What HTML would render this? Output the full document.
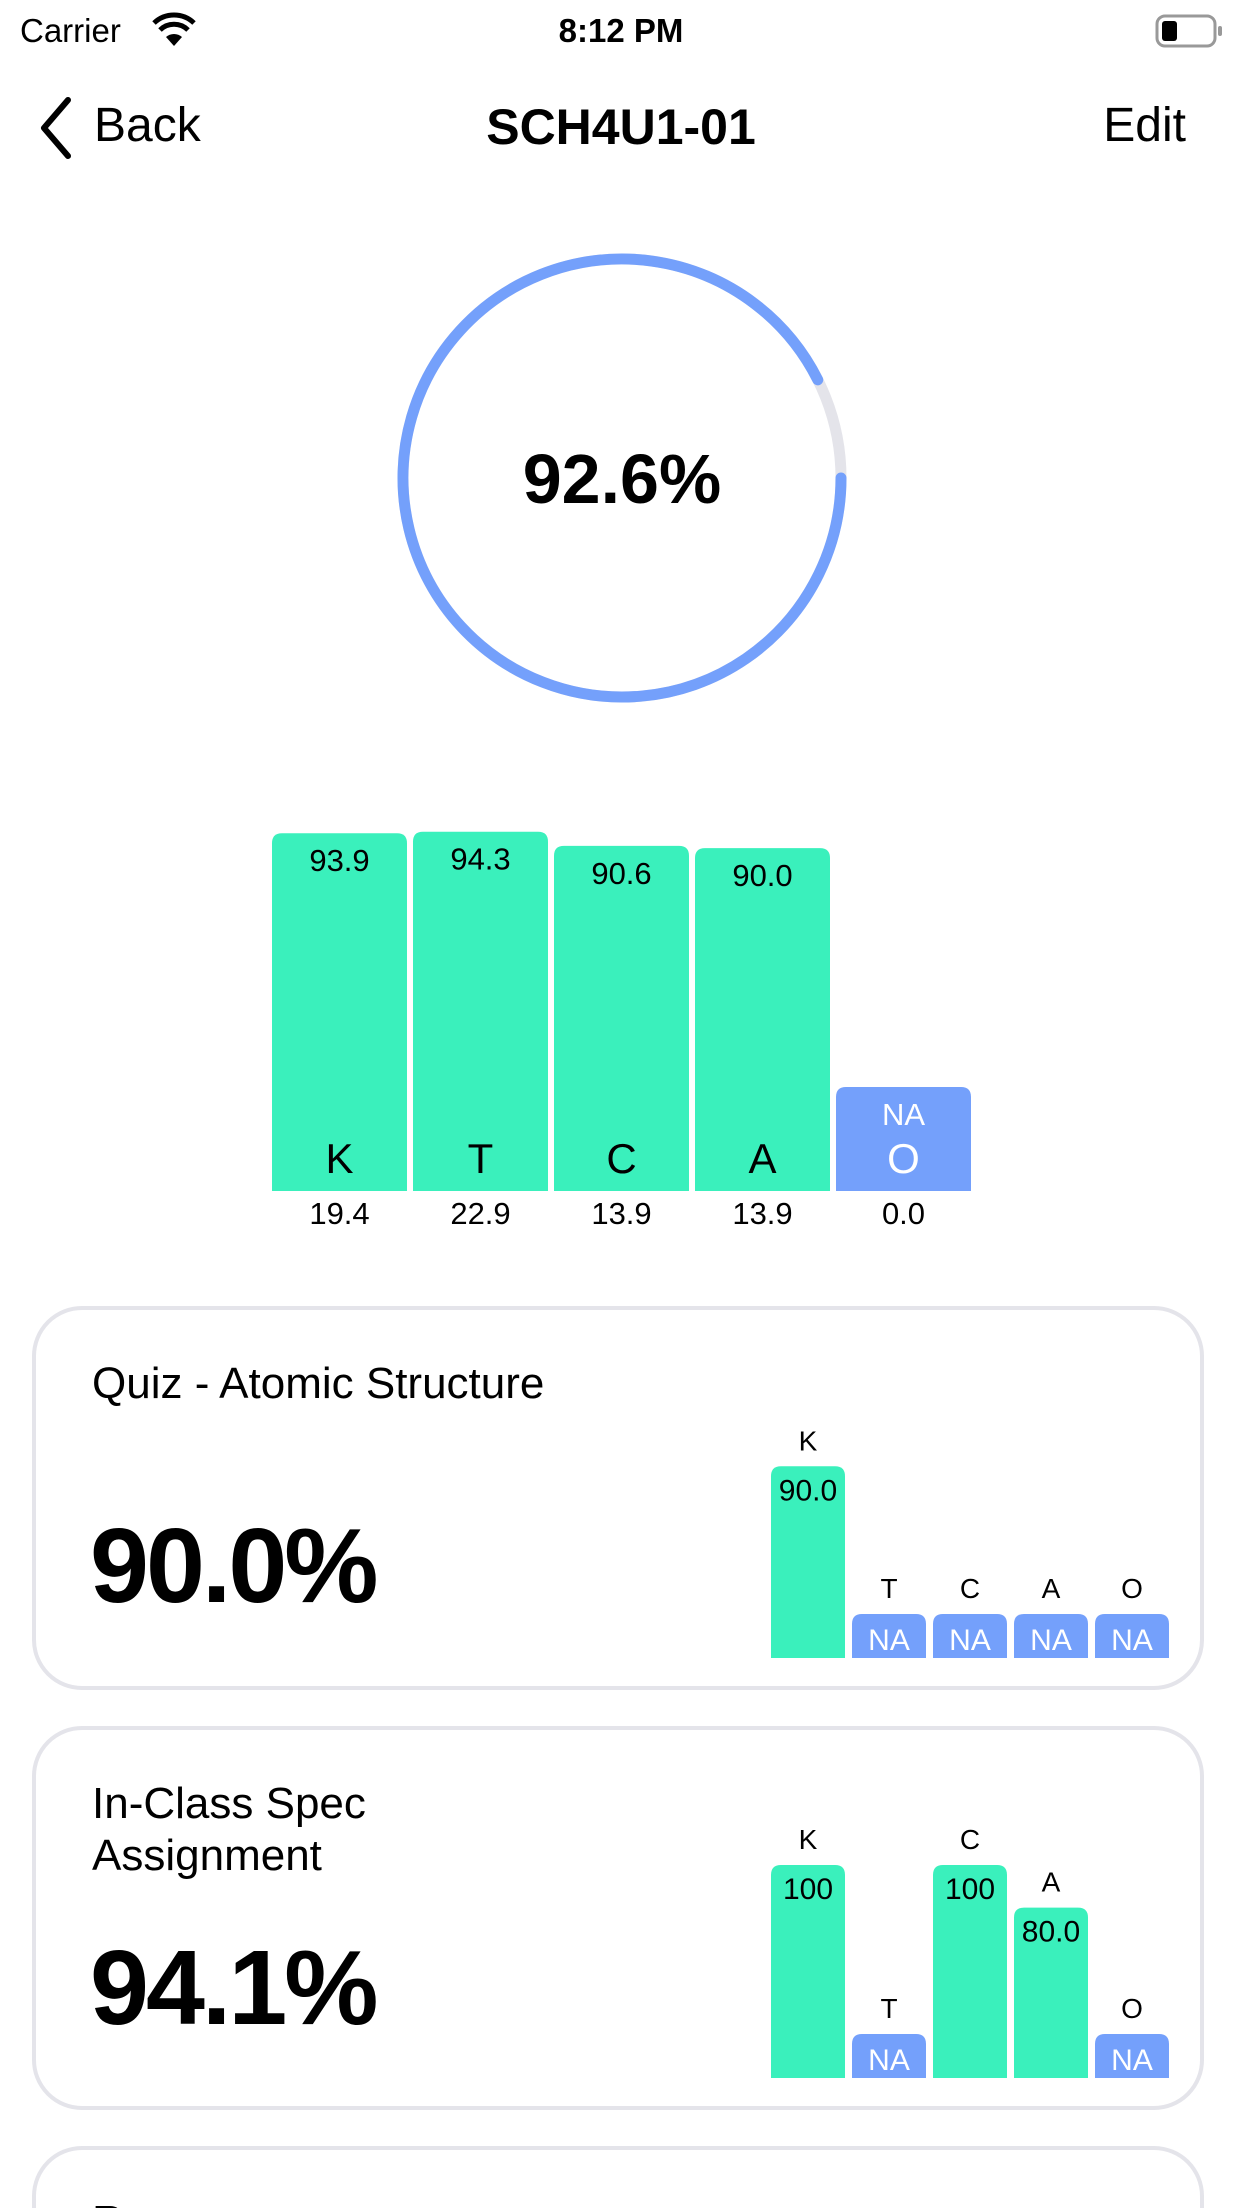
<!DOCTYPE html>
<html><head><meta charset="utf-8">
<style>
html,body{margin:0;padding:0;background:#fff;width:1242px;height:2208px;overflow:hidden;}
body{position:relative;font-family:"Liberation Sans",sans-serif;color:#000;}
.abs{position:absolute;}
.card{position:absolute;left:32px;width:1172px;border:4px solid #e4e4ea;border-radius:50px;box-sizing:border-box;}
#clip{position:absolute;left:0;top:0;width:1242px;height:2208px;overflow:hidden;}
</style></head>
<body>
<div id="clip">
<div class="abs" style="left:20px;top:12px;font-size:33px;">Carrier</div>
<svg class="abs" style="left:152px;top:12px" width="44" height="36" viewBox="0 0 44 36">
<path d="M22 34 L14 25 A12 12 0 0 1 30 25 Z" fill="#000"/>
<path d="M8 18 A20 20 0 0 1 36 18" stroke="#000" stroke-width="5" fill="none"/>
<path d="M2 11 A29 29 0 0 1 42 11" stroke="#000" stroke-width="5" fill="none"/>
</svg>
<div class="abs" style="left:0;width:1242px;text-align:center;top:12px;font-size:33px;font-weight:bold;">8:12 PM</div>
<svg class="abs" style="left:1155px;top:14px" width="70" height="36" viewBox="0 0 70 36">
<rect x="2" y="2" width="58" height="30" rx="8" fill="none" stroke="#999" stroke-width="3"/>
<rect x="7" y="7" width="15" height="20" rx="3" fill="#000"/>
<rect x="63" y="12" width="4" height="10" rx="2" fill="#999"/>
</svg>
<svg class="abs" style="left:36px;top:96px" width="40" height="64" viewBox="0 0 40 64">
<path d="M32 4 L8 32 L32 60" stroke="#000" stroke-width="6" fill="none" stroke-linecap="round" stroke-linejoin="round"/>
</svg>
<div class="abs" style="left:94px;top:98px;font-size:48px;">Back</div>
<div class="abs" style="left:0;width:1242px;text-align:center;top:98px;font-size:50px;font-weight:bold;">SCH4U1-01</div>
<div class="abs" style="right:56px;top:98px;font-size:48px;">Edit</div>

<svg class="abs" id="ring" style="left:0;top:0" width="1242" height="760"></svg>
<svg class="abs" id="main" style="left:0;top:780px" width="1242" height="470"></svg>

<div class="card" style="top:1306px;height:384px;">
<div class="abs" style="left:56px;top:48px;font-size:44px;line-height:52px;">Quiz - Atomic Structure</div>
<div class="abs" style="left:54px;top:196px;font-size:106px;font-weight:bold;letter-spacing:-3px;">90.0%</div>
<svg class="abs" id="c1" style="left:0;top:0" width="1164" height="376"></svg>
</div>
<div class="card" style="top:1726px;height:384px;">
<div class="abs" style="left:56px;top:48px;font-size:44px;line-height:52px;">In-Class Spec<br>Assignment</div>
<div class="abs" style="left:54px;top:198px;font-size:106px;font-weight:bold;letter-spacing:-3px;">94.1%</div>
<svg class="abs" id="c2" style="left:0;top:0" width="1164" height="376"></svg>
</div>
<div class="card" style="top:2146px;height:62px;border-bottom:none;border-radius:50px 50px 0 0;overflow:hidden;">
<div class="abs" style="left:56px;top:46px;font-size:44px;line-height:52px;">Reassessment</div>
</div>
</div>

<script>
const overall = 92.6;
const categories = ["K","T","C","A","O"];
const mainValues = [93.9, 94.3, 90.6, 90.0, null];
const mainWeights = ["19.4","22.9","13.9","13.9","0.0"];
const quizValues = [90.0, null, null, null, null];
const specValues = [100, null, 100, 80.0, null];

const NS = "http://www.w3.org/2000/svg";
const GREEN = "#3af0bc", BLUE = "#74a0fb";
function mk(tag, attrs, parent){const e=document.createElementNS(NS,tag);for(const k in attrs)e.setAttribute(k,attrs[k]);parent.appendChild(e);return e;}
function topRound(x,y,w,h,r){return `M${x} ${y+h} L${x} ${y+r} Q${x} ${y} ${x+r} ${y} L${x+w-r} ${y} Q${x+w} ${y} ${x+w} ${y+r} L${x+w} ${y+h} Z`;}
function fmt(v){return v>=100?String(Math.round(v)):v.toFixed(1);}

(function(){
  const svg=document.getElementById('ring');
  const cx=622,cy=478,r=219;
  const t=mk('circle',{cx,cy,r,fill:'none',stroke:'#e4e4ea','stroke-width':11},svg);
  
  
  const a0=0, a1=overall/100*2*Math.PI;
  const p0=[cx+r*Math.cos(a0),cy+r*Math.sin(a0)], p1=[cx+r*Math.cos(a1),cy+r*Math.sin(a1)];
  const large=a1-a0>Math.PI?1:0;
  const arc=mk('path',{d:`M${p0[0]} ${p0[1]} A${r} ${r} 0 ${large} 1 ${p1[0]} ${p1[1]}`,fill:'none',stroke:BLUE,'stroke-width':11,'stroke-linecap':'round'},svg);
  
  
  const tx=mk('text',{x:cx,y:cy+25,'text-anchor':'middle','font-size':70,'font-weight':'bold','font-family':'Liberation Sans, sans-serif'},svg);
  tx.textContent=overall.toFixed(1)+'%';
  
  
})();

(function(){
  const svg=document.getElementById('main');
  const x0=272,pitch=141,w=135,base=411,scale=3.81,naH=104;
  const F='Liberation Sans, sans-serif';
  categories.forEach((c,i)=>{
    const v=mainValues[i];const x=x0+i*pitch;
    const h=v==null?naH:v*scale;
    const b=mk('path',{d:topRound(x,base-h,w,h,10),fill:v==null?BLUE:GREEN},svg);
    
    
    const col=v==null?'#fff':'#000';
    const vt=mk('text',{x:x+w/2,y:base-h+(v==null?38:38),'text-anchor':'middle','font-size':31,fill:col,'font-family':F},svg);
    vt.textContent=v==null?'NA':fmt(v);
    
    
    const lt=mk('text',{x:x+w/2,y:base-18,'text-anchor':'middle','font-size':42,fill:col,'font-family':F},svg);
    lt.textContent=c;
    
    
    const wt=mk('text',{x:x+w/2,y:base+33,'text-anchor':'middle','font-size':31,fill:'#000','font-family':F},svg);
    wt.textContent=mainWeights[i];
    
    
  });
})();

function mini(id,vals){
  const svg=document.getElementById(id);
  const x0=735,pitch=81,w=74,base=348,scale=2.13,naH=44;
  const F='Liberation Sans, sans-serif';
  categories.forEach((c,i)=>{
    const v=vals[i];const x=x0+i*pitch;
    const h=v==null?naH:v*scale;
    const b=mk('path',{d:topRound(x,base-h,w,h,10),fill:v==null?BLUE:GREEN},svg);
    
    
    const vt=mk('text',{x:x+w/2,y:base-h+(v==null?36:34),'text-anchor':'middle','font-size':30,fill:v==null?'#fff':'#000','font-family':F},svg);
    vt.textContent=v==null?'NA':fmt(v);
    
    
    const lt=mk('text',{x:x+w/2,y:base-h-16,'text-anchor':'middle','font-size':28,fill:'#000','font-family':F},svg);
    lt.textContent=c;
    
    
  });
}
mini('c1',quizValues);
mini('c2',specValues);
</script>
</body></html>
